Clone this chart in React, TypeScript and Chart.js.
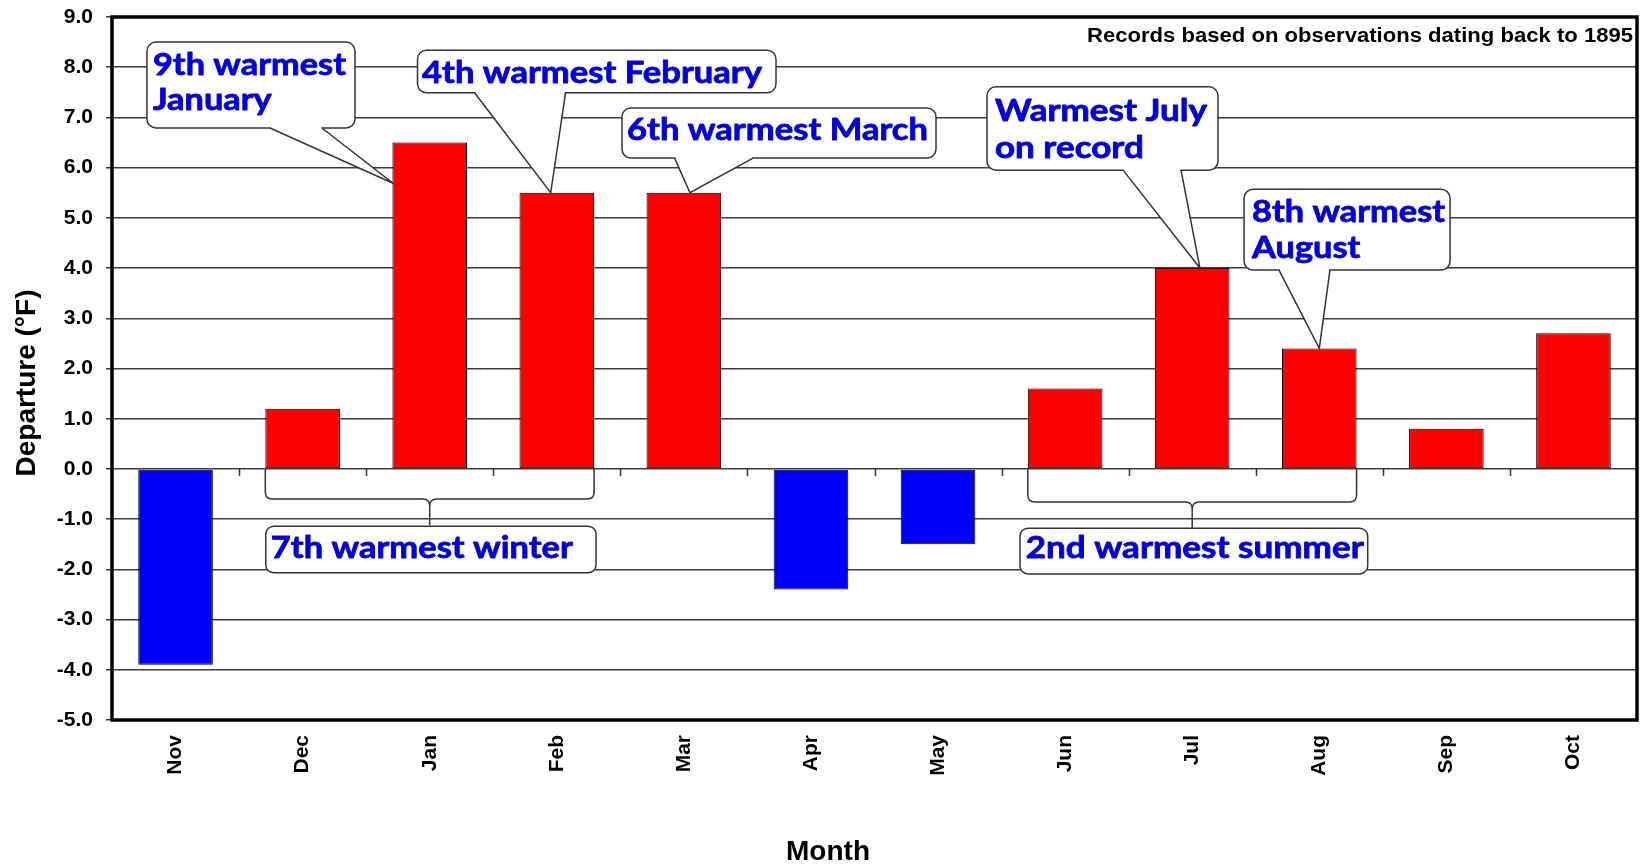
import { useEffect, useRef } from "react";
import { Chart, registerables } from "chart.js";

Chart.register(...registerables);

// ---------- data ----------
const months = ["Nov", "Dec", "Jan", "Feb", "Mar", "Apr", "May", "Jun", "Jul", "Aug", "Sep", "Oct"];
const departures = [-3.9, 1.2, 6.5, 5.5, 5.5, -2.4, -1.5, 1.6, 4.0, 2.4, 0.8, 2.7];
const yMin = -5;
const yMax = 9;
const yStep = 1;
const yTitle = "Departure (°F)";
const xTitle = "Month";
const noteText = "Records based on observations dating back to 1895";

// callouts: box corners in (category index, value) units, pointer base in category index, tip in (index, value)
const calloutLines = [
  ["9th warmest", "January"],
  ["4th warmest February"],
  ["6th warmest March"],
  ["Warmest July", "on record"],
  ["8th warmest", "August"],
];
const calloutBoxX = [[-0.225, 1.412], [1.904, 4.725], [3.513, 5.984], [6.385, 8.203], [8.408, 10.029]];
const calloutBoxY = [[8.5, 6.79], [8.34, 7.49], [7.19, 6.19], [7.61, 5.95], [5.57, 3.96]];
const calloutBase = [[0.743, 1.152], [2.353, 3.069], [3.927, 4.544], [7.456, 7.912], [8.683, 9.084]];
const calloutTip = [[1.711, 5.69], [2.952, 5.5], [4.048, 5.5], [8.061, 4.0], [9.0, 2.4]];

// season brackets
const seasonLabels = ["7th warmest winter", "2nd warmest summer"];
const seasonSpan = [[1, 3], [7, 9]];
const seasonBraceY = [-0.6, -0.66];
const seasonStemY = [-1.12, -1.18];
const seasonBoxX = [[0.71, 3.309], [6.645, 9.381]];
const seasonBoxY = [[-1.14, -2.07], [-1.18, -2.09]];

// ---------- styles ----------
const SANS = '"Liberation Sans", Arial, sans-serif';
const CALLOUT_FONT = "bold 30px Lato, 'Open Sans', sans-serif";
const CALLOUT_COLOR = "#0000e0";
const calloutPad = [6, 4.5, 5, 8, 8];
const calloutBaselines = [[33, 68], [32.7], [32], [34.7, 71], [32.7, 69]];
const calloutWidth = [193, 340, 301, 212, 193];
const seasonPad = [5, 5.7];
const seasonBaseline = [32, 30];
const seasonWidth = [302, 338];

function roundRectPath(ctx: CanvasRenderingContext2D, x1: number, y1: number, x2: number, y2: number, r: number) {
  ctx.beginPath();
  ctx.moveTo(x1 + r, y1);
  ctx.lineTo(x2 - r, y1);
  ctx.arcTo(x2, y1, x2, y1 + r, r);
  ctx.lineTo(x2, y2 - r);
  ctx.arcTo(x2, y2, x2 - r, y2, r);
  ctx.lineTo(x1 + r, y2);
  ctx.arcTo(x1, y2, x1, y2 - r, r);
  ctx.lineTo(x1, y1 + r);
  ctx.arcTo(x1, y1, x1 + r, y1, r);
  ctx.closePath();
}

function scaledText(
  ctx: CanvasRenderingContext2D,
  text: string,
  x: number,
  y: number,
  sx: number,
  align: CanvasTextAlign = "left",
  strokeW = 0
) {
  ctx.save();
  ctx.translate(x, y);
  ctx.scale(sx, 1);
  ctx.textAlign = align;
  ctx.fillText(text, 0, 0);
  if (strokeW > 0) {
    ctx.strokeStyle = ctx.fillStyle as string;
    ctx.lineWidth = strokeW;
    ctx.lineJoin = "round";
    ctx.strokeText(text, 0, 0);
  }
  ctx.restore();
}

const annotationPlugin = {
  id: "annotations",
  afterDatasetsDraw(chart: any) {
    const ctx: CanvasRenderingContext2D = chart.ctx;
    const xs = chart.scales.x;
    const ys = chart.scales.y;
    const ca = chart.chartArea;
    const px = (v: number) => xs.getPixelForValue(v);
    const py = (v: number) => ys.getPixelForValue(v);
    const y0 = py(0);
    const meta = chart.getDatasetMeta(0);

    ctx.save();
    // zero-line tick marks between categories
    ctx.strokeStyle = "#333";
    ctx.lineWidth = 1.5;
    for (let i = 0; i < months.length - 1; i++) {
      const xb = Math.round((px(i) + px(i + 1)) / 2) + 0.5;
      ctx.beginPath();
      ctx.moveTo(xb, y0);
      ctx.lineTo(xb, y0 + 7);
      ctx.stroke();
    }

    // plot border
    ctx.strokeStyle = "#000";
    ctx.lineWidth = 3.5;
    ctx.strokeRect(ca.left, ca.top, ca.right - ca.left, ca.bottom - ca.top);

    // season brackets
    seasonLabels.forEach((label, k) => {
      const a = meta.data[seasonSpan[k][0]];
      const b = meta.data[seasonSpan[k][1]];
      const left = a.x - a.width / 2;
      const right = b.x + b.width / 2;
      const cx = (left + right) / 2;
      const yh = py(seasonBraceY[k]);
      const ysb = py(seasonStemY[k]);
      const r = 7;
      ctx.strokeStyle = "#333";
      ctx.lineWidth = 1.5;
      ctx.beginPath();
      ctx.moveTo(left, y0);
      ctx.lineTo(left, yh - r);
      ctx.quadraticCurveTo(left, yh, left + r, yh);
      ctx.lineTo(cx - r, yh);
      ctx.quadraticCurveTo(cx, yh, cx, yh + r);
      ctx.lineTo(cx, ysb);
      ctx.moveTo(cx, yh + r);
      ctx.quadraticCurveTo(cx, yh, cx + r, yh);
      ctx.lineTo(right - r, yh);
      ctx.quadraticCurveTo(right, yh, right, yh - r);
      ctx.lineTo(right, y0);
      ctx.stroke();

      const bx1 = px(seasonBoxX[k][0]);
      const bx2 = px(seasonBoxX[k][1]);
      const by1 = py(seasonBoxY[k][0]);
      const by2 = py(seasonBoxY[k][1]);
      roundRectPath(ctx, bx1, by1, bx2, by2, 8);
      ctx.fillStyle = "#fff";
      ctx.fill();
      ctx.stroke();
      ctx.font = CALLOUT_FONT;
      ctx.fillStyle = CALLOUT_COLOR;
      ctx.textBaseline = "alphabetic";
      const sx = seasonWidth[k] / ctx.measureText(label).width;
      scaledText(ctx, label, bx1 + seasonPad[k], by1 + seasonBaseline[k], sx, "left", 0.8);
    });

    // callouts
    calloutLines.forEach((lines, k) => {
      const bx1 = px(calloutBoxX[k][0]);
      const bx2 = px(calloutBoxX[k][1]);
      const by1 = py(calloutBoxY[k][0]);
      const by2 = py(calloutBoxY[k][1]);
      const b1 = px(calloutBase[k][0]);
      const b2 = px(calloutBase[k][1]);
      const tx = px(calloutTip[k][0]);
      const ty = py(calloutTip[k][1]);
      ctx.strokeStyle = "#333";
      ctx.lineWidth = 1.5;
      roundRectPath(ctx, bx1, by1, bx2, by2, 9);
      ctx.fillStyle = "#fff";
      ctx.fill();
      ctx.stroke();
      // pointer fill (covers border between base points)
      ctx.beginPath();
      ctx.moveTo(b1 + 0.8, by2 - 3);
      ctx.lineTo(b1 + 0.8, by2);
      ctx.lineTo(tx, ty);
      ctx.lineTo(b2 - 0.8, by2);
      ctx.lineTo(b2 - 0.8, by2 - 3);
      ctx.closePath();
      ctx.fill();
      ctx.beginPath();
      ctx.moveTo(b1, by2);
      ctx.lineTo(tx, ty);
      ctx.lineTo(b2, by2);
      ctx.stroke();

      ctx.font = CALLOUT_FONT;
      ctx.fillStyle = CALLOUT_COLOR;
      ctx.textBaseline = "alphabetic";
      const sx = calloutWidth[k] / ctx.measureText(lines[0]).width;
      lines.forEach((line, j) => {
        scaledText(ctx, line, bx1 + calloutPad[k], by1 + calloutBaselines[k][j], sx, "left", 0.8);
      });
    });

    // note in top right
    ctx.font = `bold 20px ${SANS}`;
    ctx.fillStyle = "#000";
    ctx.textBaseline = "alphabetic";
    const nsx = 546 / ctx.measureText(noteText).width;
    scaledText(ctx, noteText, ca.right - 4, ca.top + 24.5, nsx, "right");

    // axis titles
    ctx.font = `bold 28px ${SANS}`;
    ctx.fillStyle = "#000";
    ctx.textBaseline = "middle";
    ctx.textAlign = "center";
    ctx.fillText(xTitle, 828, chart.height - 15);
    ctx.save();
    ctx.translate(27, 383);
    ctx.rotate(-Math.PI / 2);
    ctx.fillText(yTitle, 0, 0);
    ctx.restore();

    ctx.restore();
  },
};

export default function App() {
  const canvasRef = useRef<HTMLCanvasElement | null>(null);

  useEffect(() => {
    const canvas = canvasRef.current;
    if (!canvas) return;
    const chart = new Chart(canvas, {
      type: "bar",
      data: {
        labels: months,
        datasets: [
          {
            data: departures,
            backgroundColor: departures.map((v) => (v >= 0 ? "#ff0000" : "#0000ff")),
            borderColor: "#000",
            borderWidth: 1,
            borderSkipped: false,
            barPercentage: 0.587,
            categoryPercentage: 1,
          },
        ],
      },
      options: {
        animation: false,
        responsive: true,
        maintainAspectRatio: false,
        devicePixelRatio: 1,
        layout: { padding: { top: 17, right: 14, left: 0, bottom: 0 } },
        plugins: {
          legend: { display: false },
          tooltip: { enabled: false },
          title: { display: false },
        },
        scales: {
          x: {
            type: "category",
            offset: true,
            grid: { display: false, drawTicks: false, tickLength: 0 },
            border: { display: false },
            ticks: {
              minRotation: 90,
              maxRotation: 90,
              autoSkip: false,
              padding: 15,
              color: "#000",
              font: { family: SANS, size: 21, weight: "bold" },
            },
            afterFit: (s: any) => {
              s.height = 147;
            },
          },
          y: {
            min: yMin,
            max: yMax,
            grid: { color: "#3c3c3c", lineWidth: 1.5, tickLength: 6, drawTicks: true },
            border: { display: false },
            ticks: {
              stepSize: yStep,
              padding: 13,
              color: "#000",
              font: { family: SANS, size: 21, weight: "bold", lineHeight: 0.3 },
              callback: (v: any) => Number(v).toFixed(1),
            },
            afterFit: (s: any) => {
              s.width = 112;
            },
          },
        },
      },
      plugins: [annotationPlugin],
    } as any);
    return () => chart.destroy();
  }, []);

  return (
    <div style={{ position: "fixed", left: 0, top: 0, width: 1651, height: 867, background: "#fff" }}>
      <canvas ref={canvasRef} />
    </div>
  );
}
